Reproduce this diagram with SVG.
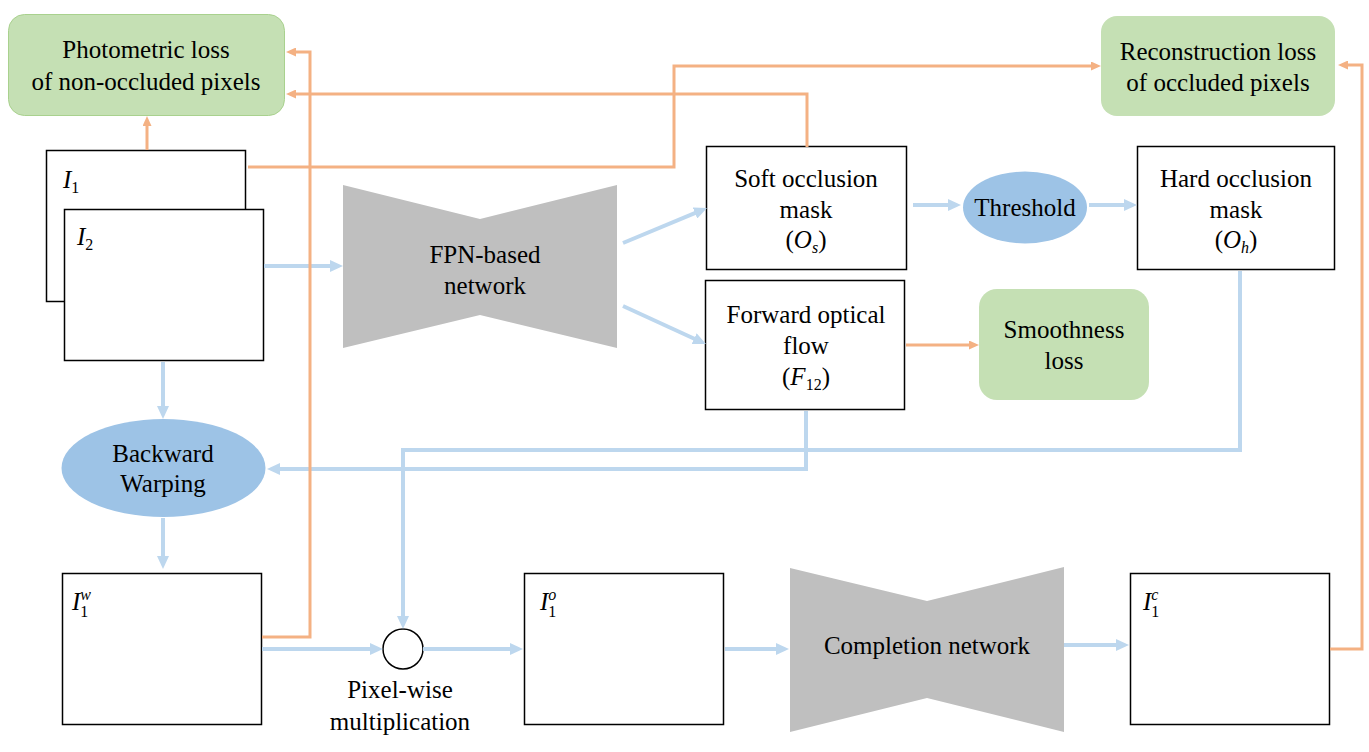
<svg xmlns="http://www.w3.org/2000/svg" width="1369" height="752" viewBox="0 0 1369 752" font-family="Liberation Serif, Times New Roman, serif">
<style>
.t{font-size:25px;fill:#000;text-anchor:middle}
.m{font-size:25px;fill:#000;font-style:italic}
.s{font-size:16px;font-style:normal}
.si{font-size:16px;font-style:italic}
.box{fill:#fff;stroke:#000;stroke-width:1.5}
.loss{fill:#C5E0B4}
.op{fill:#9DC3E6}
.net{fill:#BFBFBF}
.b{fill:none;stroke:#BDD7EE;stroke-width:4}
.o{fill:none;stroke:#F4B183;stroke-width:3}
</style>
<defs>
<marker id="ab" viewBox="0 0 13 12" refX="5" refY="6" markerWidth="13" markerHeight="12" markerUnits="userSpaceOnUse" orient="auto"><path d="M0,0 L13,6 L0,12 z" fill="#BDD7EE"/></marker>
<marker id="ao" viewBox="0 0 10 9" refX="4" refY="4.5" markerWidth="10" markerHeight="9" markerUnits="userSpaceOnUse" orient="auto"><path d="M0,0 L10,4.5 L0,9 z" fill="#F4B183"/></marker>
</defs>
<rect width="1369" height="752" fill="#fff"/>

<g id="photometric-loss">
<rect class="loss" x="8.5" y="14.5" width="276" height="101" rx="16" stroke="#A9D18E" stroke-width="1"/>
<text class="t" x="146" y="58">Photometric loss</text>
<text class="t" x="146" y="90">of non-occluded pixels</text>
</g>
<g id="reconstruction-loss">
<rect class="loss" x="1101" y="16" width="234" height="100" rx="16"/>
<text class="t" x="1218" y="60">Reconstruction loss</text>
<text class="t" x="1218" y="91">of occluded pixels</text>
</g>
<g id="smoothness-loss">
<rect class="loss" x="979" y="289" width="170" height="111" rx="18"/>
<text class="t" x="1064" y="338">Smoothness</text>
<text class="t" x="1064" y="369">loss</text>
</g>

<g id="I1">
<rect class="box" x="46.5" y="150.5" width="199" height="151"/>
<text class="m" x="63" y="188">I<tspan class="s" dy="5">1</tspan></text>
</g>
<g id="I2">
<rect class="box" x="64.5" y="209.5" width="199" height="151"/>
<text class="m" x="77" y="245">I<tspan class="s" dy="5">2</tspan></text>
</g>

<g id="fpn-network">
<polygon class="net" points="343,185 480,219 617,185 617,348 480,315 343,348"/>
<text class="t" x="485" y="263">FPN-based</text>
<text class="t" x="485" y="294">network</text>
</g>

<g id="soft-occlusion-mask">
<rect class="box" x="706.5" y="146.5" width="200" height="123"/>
<text class="t" x="806" y="187">Soft occlusion</text>
<text class="t" x="806" y="218">mask</text>
<text class="t" x="806" y="248">(<tspan font-style="italic">O</tspan><tspan class="si" dy="5">s</tspan><tspan dy="-5">)</tspan></text>
</g>

<g id="threshold">
<ellipse class="op" cx="1025" cy="207.5" rx="62" ry="36"/>
<text class="t" x="1025" y="216">Threshold</text>
</g>

<g id="hard-occlusion-mask">
<rect class="box" x="1137.5" y="146.5" width="197" height="123"/>
<text class="t" x="1236" y="187">Hard occlusion</text>
<text class="t" x="1236" y="218">mask</text>
<text class="t" x="1236" y="248">(<tspan font-style="italic">O</tspan><tspan class="si" dy="5">h</tspan><tspan dy="-5">)</tspan></text>
</g>

<g id="forward-optical-flow">
<rect class="box" x="705.5" y="280.5" width="199" height="129"/>
<text class="t" x="806" y="323">Forward optical</text>
<text class="t" x="806" y="354">flow</text>
<text class="t" x="806" y="385">(<tspan font-style="italic">F</tspan><tspan class="s" dy="5">12</tspan><tspan dy="-5">)</tspan></text>
</g>

<g id="backward-warping">
<ellipse class="op" cx="163.5" cy="468" rx="102" ry="49"/>
<text class="t" x="163" y="462">Backward</text>
<text class="t" x="163" y="492">Warping</text>
</g>

<g id="I1w">
<rect class="box" x="62.5" y="573.5" width="199" height="151"/>
<text class="m" x="72" y="610">I<tspan class="s" dy="7">1</tspan><tspan class="si" dx="-8" dy="-17">w</tspan></text>
</g>

<g id="pixel-wise-multiplication">
<circle cx="403" cy="649" r="20" fill="#fff" stroke="#000" stroke-width="1.5"/>
<text class="t" x="400" y="698">Pixel-wise</text>
<text class="t" x="400" y="730">multiplication</text>
</g>

<g id="I1o">
<rect class="box" x="524.5" y="573.5" width="199" height="151"/>
<text class="m" x="540" y="610">I<tspan class="s" dy="7">1</tspan><tspan class="si" dx="-8" dy="-17">o</tspan></text>
</g>

<g id="completion-network">
<polygon class="net" points="790,568 927,601 1064,567 1064,732 927,698 790,732"/>
<text class="t" x="927" y="654">Completion network</text>
</g>

<g id="I1c">
<rect class="box" x="1130.5" y="573.5" width="199" height="151"/>
<text class="m" x="1143" y="610">I<tspan class="s" dy="7">1</tspan><tspan class="si" dx="-8" dy="-17">c</tspan></text>
</g>

<g id="connectors">
<g id="blue-connectors">
<path class="b" d="M264,266 H335" marker-end="url(#ab)"/>
<path class="b" d="M623,243 L699.6,211.1" marker-end="url(#ab)"/>
<path class="b" d="M623,306 L698.7,340.7" marker-end="url(#ab)"/>
<path class="b" d="M913,205 H953" marker-end="url(#ab)"/>
<path class="b" d="M1089,205 H1129" marker-end="url(#ab)"/>
<path class="b" d="M163,362 V411" marker-end="url(#ab)"/>
<path class="b" d="M163,518 V561" marker-end="url(#ab)"/>
<path class="b" d="M806,411 V469 H275" marker-end="url(#ab)"/>
<path class="b" d="M1240,271 V450 H403 V621" marker-end="url(#ab)"/>
<path class="b" d="M262,649 H375" marker-end="url(#ab)"/>
<path class="b" d="M423,649 H515" marker-end="url(#ab)"/>
<path class="b" d="M725,649 H781" marker-end="url(#ab)"/>
<path class="b" d="M1064,645 H1121" marker-end="url(#ab)"/>
</g>
<g id="orange-connectors">
<path class="o" d="M147,150 V122" marker-end="url(#ao)"/>
<path class="o" d="M248,167 H674 V66 H1095" marker-end="url(#ao)"/>
<path class="o" d="M807,147 V94 H292" marker-end="url(#ao)"/>
<path class="o" d="M262,637 H310 V52 H292" marker-end="url(#ao)"/>
<path class="o" d="M906,345 H973" marker-end="url(#ao)"/>
<path class="o" d="M1330,649 H1362 V65 H1344" marker-end="url(#ao)"/>
</g>
</g>
</svg>
